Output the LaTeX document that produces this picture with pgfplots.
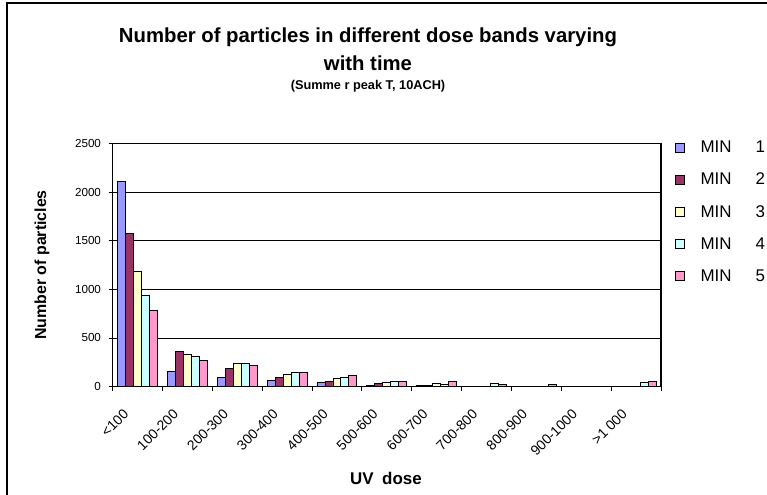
\documentclass[border=0pt]{standalone}
\usepackage{pgfplots}
\pgfplotsset{compat=1.18}
\usepackage{fontspec}
\setmainfont{Liberation Sans}
\definecolor{c1}{HTML}{9999FF}
\definecolor{c2}{HTML}{993366}
\definecolor{c3}{HTML}{FFFFCC}
\definecolor{c4}{HTML}{CCFFFF}
\definecolor{c5}{HTML}{FF99CC}
\begin{document}
\begin{tikzpicture}
\useasboundingbox (0bp,0bp) rectangle (767bp,-495bp);
\draw[line width=1.1pt] (7bp,-500bp) -- (7bp,-3bp) -- (775bp,-3bp);
\node[font=\fontsize{20.4}{22}\selectfont\bfseries] at (368bp,-37bp) {Number of particles in different dose bands varying};
\node[font=\fontsize{20.4}{22}\selectfont\bfseries] at (368bp,-63bp) {with time};
\node[font=\fontsize{12.8}{14}\selectfont\bfseries] at (368bp,-86bp) {(Summe r peak T, 10ACH)};
\node[font=\fontsize{16}{18}\selectfont\bfseries, rotate=90] at (42bp,-265bp) {Number of particles};
\node[font=\fontsize{17}{19}\selectfont\bfseries] at (386bp,-478bp) {UV\hspace{0.5em}dose};
\begin{axis}[
  at={(112.5bp,-386.5bp)}, anchor=south west,
  scale only axis, width=548.5bp, height=243bp,
  ybar=0pt, bar width=0.16,
  xmin=-0.5, xmax=10.5, ymin=0, ymax=2500,
  xtick={0,...,10},
  xticklabels={{<100},{100-200},{200-300},{300-400},{400-500},{500-600},{600-700},{700-800},{800-900},{900-1000},{>1 000}},
  major x tick style={draw=none},
  extra x ticks={-0.5,0.5,...,10.5},
  extra x tick labels={},
  extra x tick style={major tick length=4bp, major x tick style={black, line width=0.8pt, draw=black}, grid=none},
  ytick={0,500,...,2500},
  tick align=outside, tick pos=left,
  major tick length=4bp,
  ymajorgrids, grid style={black, line width=0.6pt},
  axis line style={line width=1.3pt},
  tick style={black, line width=0.8pt},
  /pgf/number format/assume math mode=true,
  /pgf/number format/1000 sep={},
  yticklabel style={font=\fontsize{11.7}{13}\selectfont, xshift=-4bp},
  xticklabel style={font=\fontsize{14}{15}\selectfont, xshift=-15bp, yshift=-16bp, rotate=45, anchor=north east, inner sep=1bp},
  legend image code/.code={\draw[#1, line width=0.8pt] (0bp,-4.5bp) rectangle (9bp,4.5bp); \path[draw=none, fill=none] (0bp,0bp) -- (23bp,0bp);},
  legend style={draw=none, fill=none, at={(axis description cs:1.0255,1.02)}, anchor=north west,
    font=\fontsize{17}{17}\selectfont, row sep=15bp, inner sep=0pt},
  legend cell align=left,
  every axis plot/.append style={draw=black, line width=0.8pt},
]
\addplot[fill=c1] coordinates {(0,2110) (1,158) (2,96) (3,65) (4,38) (5,7) (6,8) (7,3) (8,2) (9,3) (10,2)};
\addplot[fill=c2] coordinates {(0,1571) (1,357) (2,189) (3,96) (4,55) (5,27) (6,10) (7,3) (8,3) (9,3) (10,3)};
\addplot[fill=c3] coordinates {(0,1182) (1,327) (2,237) (3,127) (4,82) (5,41) (6,27) (7,5) (8,5) (9,4) (10,5)};
\addplot[fill=c4] coordinates {(0,942) (1,309) (2,237) (3,148) (4,96) (5,52) (6,24) (7,27) (8,5) (9,5) (10,41)};
\addplot[fill=c5] coordinates {(0,787) (1,268) (2,217) (3,148) (4,110) (5,52) (6,52) (7,24) (8,25) (9,4) (10,52)};
\legend{MIN\hspace{24bp}1, MIN\hspace{24bp}2, MIN\hspace{24bp}3, MIN\hspace{24bp}4, MIN\hspace{24bp}5}
\end{axis}
\end{tikzpicture}
\end{document}
